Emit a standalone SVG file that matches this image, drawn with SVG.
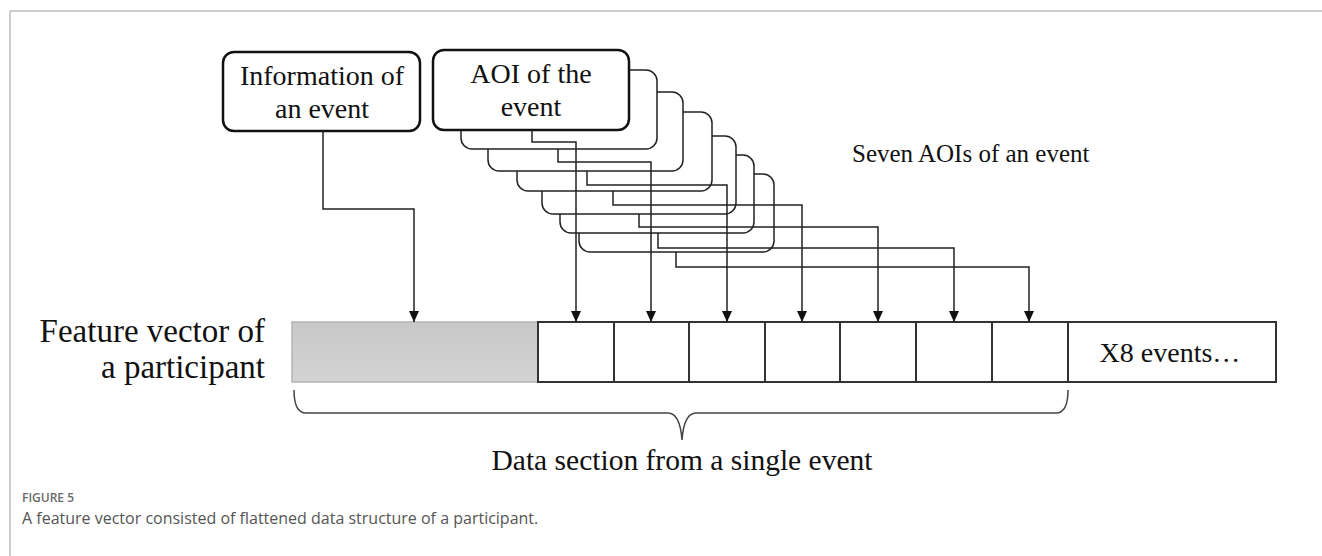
<svg xmlns="http://www.w3.org/2000/svg" width="1322" height="556" viewBox="0 0 1322 556">
  <style>
    .serif { font-family: "Liberation Serif", "Times New Roman", serif; fill: #111; }
    .lbl { font-size: 28px; }
    .box-front { fill: #fff; stroke: #111; stroke-width: 2.5; }
    .box-back { fill: #fff; stroke: #222; stroke-width: 1.5; }
    .conn { fill: none; stroke: #222; stroke-width: 1.5; }
    .cell { fill: #fff; stroke: #333; stroke-width: 2; }
    .frame { stroke: #bdbdbd; stroke-width: 1.5; }
    .cap { font-family: "Open Sans", "Noto Sans", sans-serif; }
  </style>
  <defs>
    <marker id="arrow" markerUnits="userSpaceOnUse" markerWidth="11" markerHeight="10" viewBox="0 0 11 10" refX="11" refY="5" orient="auto">
      <path d="M0 0 L11 5 L0 10 Z" fill="#111"/>
    </marker>
    <linearGradient id="grayFill" x1="0" y1="0" x2="0" y2="1">
      <stop offset="0" stop-color="#c8c8c8"/>
      <stop offset="1" stop-color="#d3d3d3"/>
    </linearGradient>
  </defs>

  <rect width="1322" height="556" fill="#fff"/>

  <!-- figure frame -->
  <g id="frame">
    <line class="frame" x1="10" y1="11" x2="1322" y2="11"/>
    <line class="frame" x1="10" y1="11" x2="10" y2="556"/>
  </g>

  <!-- information box -->
  <g id="info-node">
    <rect class="box-front" x="223" y="52" width="197" height="79" rx="11"/>
    <text class="serif lbl" x="322" y="85" text-anchor="middle">Information of</text>
    <text class="serif lbl" x="322" y="118" text-anchor="middle">an event</text>
  </g>

  <!-- stacked AOI boxes, back to front -->
  <g id="aoi-stack">
    <rect id="aoi-7" class="box-back" x="579" y="174" width="195" height="78" rx="11"/>
    <rect id="aoi-6" class="box-back" x="560" y="155" width="194" height="78" rx="11"/>
    <rect id="aoi-5" class="box-back" x="542" y="136" width="194" height="78" rx="11"/>
    <rect id="aoi-4" class="box-back" x="517" y="112" width="195" height="79" rx="11"/>
    <rect id="aoi-3" class="box-back" x="488" y="92" width="195" height="79" rx="11"/>
    <rect id="aoi-2" class="box-back" x="461" y="70" width="196" height="79" rx="11"/>
    <g id="aoi-1">
      <rect class="box-front" x="433" y="50" width="196" height="80" rx="11"/>
      <text class="serif lbl" x="531" y="83" text-anchor="middle">AOI of the</text>
      <text class="serif lbl" x="531" y="116" text-anchor="middle">event</text>
    </g>
  </g>

  <g id="aoi-caption">
    <text class="serif" font-size="25" x="852" y="162">Seven AOIs of an event</text>
  </g>

  <!-- feature vector row -->
  <g id="feature-vector">
    <text class="serif" font-size="33" x="265" y="342" text-anchor="end">Feature vector of</text>
    <text class="serif" font-size="33" x="265" y="378" text-anchor="end">a participant</text>
    <rect x="292" y="322" width="246" height="60" fill="url(#grayFill)" stroke="#b4b4b4" stroke-width="1.5"/>
    <rect class="cell" x="538" y="322" width="76" height="60"/>
    <rect class="cell" x="614" y="322" width="75" height="60"/>
    <rect class="cell" x="689" y="322" width="76" height="60"/>
    <rect class="cell" x="765" y="322" width="75" height="60"/>
    <rect class="cell" x="840" y="322" width="76" height="60"/>
    <rect class="cell" x="916" y="322" width="76" height="60"/>
    <rect class="cell" x="992" y="322" width="76" height="60"/>
    <rect class="cell" x="1068" y="322" width="208" height="60"/>
    <text class="serif lbl" x="1170" y="362" text-anchor="middle">X8 events…</text>
  </g>

  <!-- brace under one event's section -->
  <g id="event-section">
    <path d="M294 390 Q294 413 306 413 L668 413 Q680 413 682 440 Q684 413 696 413 L1056 413 Q1068 413 1068 390" fill="none" stroke="#444" stroke-width="1.5"/>
    <text class="serif" font-size="29.5" x="682" y="470" text-anchor="middle">Data section from a single event</text>
  </g>

  <!-- connectors -->
  <g id="connectors">
    <path class="conn" d="M323 131 V209 H414 V322" marker-end="url(#arrow)"/>
    <path class="conn" d="M532 130 V142 H576 V322" marker-end="url(#arrow)"/>
    <path class="conn" d="M558 149 V162 H651 V322" marker-end="url(#arrow)"/>
    <path class="conn" d="M587 171 V185 H727 V322" marker-end="url(#arrow)"/>
    <path class="conn" d="M613 191 V205 H802 V322" marker-end="url(#arrow)"/>
    <path class="conn" d="M639 214 V227 H878 V322" marker-end="url(#arrow)"/>
    <path class="conn" d="M658 233 V248 H954 V322" marker-end="url(#arrow)"/>
    <path class="conn" d="M676 252 V267 H1029 V322" marker-end="url(#arrow)"/>
  </g>

  <!-- figure caption -->
  <g id="caption">
    <text class="cap" font-size="12" font-weight="600" fill="#6a6a6a" x="22" y="502">FIGURE 5</text>
    <text class="cap" font-size="16" fill="#555" x="22" y="524">A feature vector consisted of flattened data structure of a participant.</text>
  </g>
</svg>
